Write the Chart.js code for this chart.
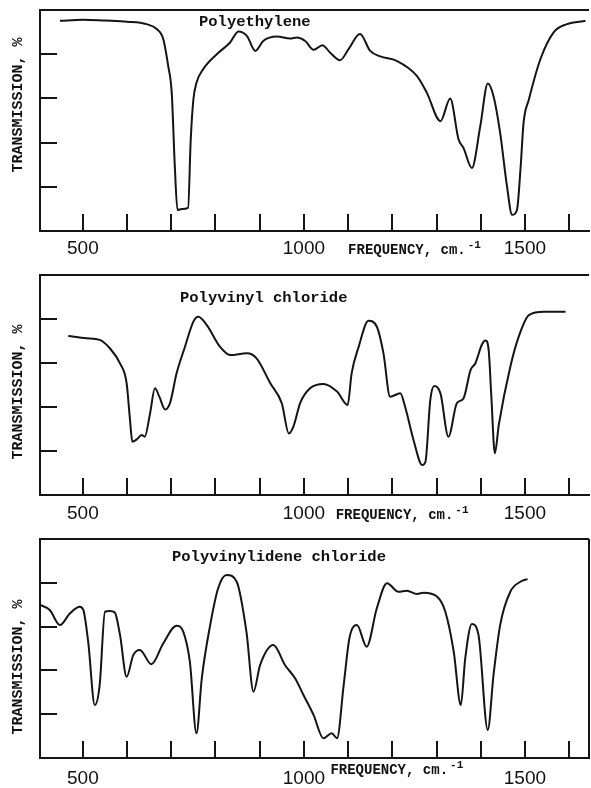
<!DOCTYPE html>
<html>
<head>
<meta charset="utf-8">
<script src="https://cdn.jsdelivr.net/npm/chart.js@4.4.1/dist/chart.umd.min.js"></script>
<style>
  html, body { margin: 0; background: #fff; overflow: hidden; }
  #wrap { position: relative; width: 591px; height: 788px; overflow: hidden; }
  #wrap canvas { position: absolute; left: 0; }
</style>
</head>
<body>
<div id="wrap">
  <canvas id="c1" width="591" height="300" style="top:0px"></canvas>
  <canvas id="c2" width="591" height="300" style="top:240px"></canvas>
  <canvas id="c3" width="591" height="300" style="top:488px"></canvas>
</div>
<script>

const peFreq = [448, 500, 550, 600, 644, 667, 682, 693, 701, 708, 714, 724, 738, 744, 750, 757, 772, 803, 833, 852, 871, 890, 908, 939, 969, 984, 1003, 1022, 1042, 1059, 1082, 1101, 1127, 1150, 1173, 1210, 1256, 1278, 1309, 1331, 1350, 1361, 1380, 1399, 1416, 1429, 1444, 1459, 1471, 1482, 1490, 1497, 1509, 1535, 1565, 1595, 1637];
const peTrans = [95.1, 95.6, 95.2, 94.7, 93.6, 91.4, 86.8, 74.7, 62.6, 29.2, 9.5, 10, 10.5, 41.4, 59.5, 67.1, 73.2, 80, 85.3, 90.3, 88.3, 81.5, 86, 88, 87.1, 87.6, 86, 82, 84.1, 80.8, 77.3, 82.3, 89.1, 81.5, 79, 77, 70.1, 62.6, 49.7, 59.9, 41.4, 37.6, 28.5, 47.4, 66.7, 61, 44.4, 21, 7.3, 9.5, 28, 49, 59.5, 77.7, 89.9, 93.6, 95.1];

const pvcFreq = [467, 508, 538, 561, 584, 599, 606, 612, 622, 633, 640, 652, 663, 673, 686, 697, 712, 731, 750, 761, 780, 810, 833, 871, 893, 924, 950, 966, 976, 992, 1014, 1044, 1075, 1099, 1108, 1124, 1146, 1165, 1180, 1195, 1218, 1229, 1248, 1268, 1275, 1286, 1295, 1309, 1327, 1346, 1361, 1377, 1388, 1403, 1411, 1418, 1424, 1432, 1441, 1467, 1486, 1509, 1543, 1592];
const pvcTrans = [72.3, 71.2, 70.5, 66.7, 59.8, 50.8, 35.6, 24.2, 25.3, 27.3, 26.5, 37.1, 48.5, 44.7, 38.9, 41.7, 55.3, 67.4, 78.8, 81, 77.3, 67.4, 63.6, 64.4, 62.1, 50.8, 41.7, 28, 31, 42, 48.5, 50.5, 47, 40.9, 55.3, 67.4, 79.2, 76.5, 64.4, 44.7, 46.2, 40.1, 25, 13.6, 15.1, 43.2, 49.5, 46.2, 26.5, 41.7, 43.9, 56.8, 59.9, 68.5, 70.2, 66, 45, 19, 32, 58.3, 72, 81.8, 83.3, 83.3];

const pvdcFreq = [403, 425, 448, 471, 493, 501, 512, 527, 538, 550, 561, 572, 584, 599, 614, 629, 655, 682, 712, 727, 742, 757, 769, 788, 806, 825, 848, 870, 886, 901, 931, 957, 980, 999, 1022, 1044, 1063, 1075, 1090, 1103, 1120, 1142, 1165, 1188, 1214, 1233, 1256, 1271, 1301, 1320, 1339, 1355, 1365, 1380, 1395, 1416, 1429, 1444, 1467, 1490, 1506];
const pvdcTrans = [69.9, 67.6, 60.7, 66.1, 69.1, 67.6, 53.1, 24.2, 33.3, 66.8, 67.1, 66.5, 56.2, 37.1, 47, 49.3, 42.8, 52.4, 60.4, 57.7, 44, 11.3, 36.4, 60.7, 77.5, 83.6, 80.5, 57.7, 30.3, 42.5, 51.6, 42.5, 36.4, 28.8, 19.6, 9, 11.3, 9, 33.3, 54.7, 60.7, 50.8, 68.4, 79.8, 75.9, 76.4, 74.9, 75.5, 73.7, 66.8, 48.5, 24.2, 45.5, 61.2, 56.2, 12.8, 37.9, 60.7, 75.9, 80.5, 81.7];

/* marcas de los ejes */
const xTickVals = [500, 600, 700, 800, 900, 1000, 1100, 1200, 1300, 1400, 1500, 1600];
const xTickLabels = ['500', '1000', '1500'];
const yTickVals = [20, 40, 60, 80];

const titles = ['Polyethylene', 'Polyvinyl chloride', 'Polyvinylidene chloride'];
const xTitle = 'FREQUENCY, cm.';
const yTitle = 'TRANSMISSION, %';

/* plugin: marco superior, marcas hacia dentro y textos */
const decor = {
  id: 'decor',
  afterDraw(chart, args, o) {
    const {ctx, chartArea: a, scales: {x, y}} = chart;
    ctx.save();
    ctx.strokeStyle = '#141414';
    ctx.lineWidth = 2;
    ctx.beginPath();
    ctx.moveTo(a.left, a.top);
    ctx.lineTo(a.right, a.top);
    if (o.rightBorder) {
      ctx.moveTo(a.right, a.top);
      ctx.lineTo(a.right, a.bottom);
    }
    xTickVals.forEach(v => {
      const px = Math.round(x.getPixelForValue(v));
      ctx.moveTo(px, a.bottom);
      ctx.lineTo(px, a.bottom - 17);
    });
    yTickVals.forEach(v => {
      const py = Math.round(y.getPixelForValue(v));
      ctx.moveTo(a.left, py);
      ctx.lineTo(a.left + 17, py);
    });
    ctx.stroke();

    ctx.fillStyle = '#111';
    ctx.textBaseline = 'middle';
    // titulo del polimero
    ctx.font = 'bold 15.5px "Liberation Mono", monospace';
    ctx.textAlign = 'left';
    ctx.fillText(o.title, o.titleX, a.top + o.titleDy);
    // eje x
    ctx.font = 'bold 14px "Liberation Mono", monospace';
    const fx = x.getPixelForValue(o.freqAt);
    const fy = a.bottom + o.freqDy;
    ctx.fillText(xTitle, fx, fy);
    const w = ctx.measureText(xTitle).width;
    ctx.font = 'bold 11px "Liberation Mono", monospace';
    ctx.fillText('-1', fx + w + 2, fy - 5);
    // eje y
    ctx.font = 'bold 15px "Liberation Mono", monospace';
    ctx.translate(18, a.top + o.yTitleDy);
    ctx.rotate(-Math.PI / 2);
    ctx.textAlign = 'center';
    ctx.fillText(yTitle, 0, 0);
    ctx.restore();
  }
};

const makeChart = (id, freq, trans, opts) => {
  const points = freq.map((f, i) => ({x: f, y: trans[i]}));
  return new Chart(document.getElementById(id), {
    type: 'line',
    data: {
      datasets: [{
        data: points,
        borderColor: '#141414',
        borderWidth: 2,
        pointRadius: 0,
        cubicInterpolationMode: 'monotone',
        fill: false
      }]
    },
    options: {
      responsive: false,
      animation: false,
      devicePixelRatio: 1,
      layout: {padding: {left: 40, right: 2, top: opts.padTop, bottom: opts.padBottom}},
      plugins: {
        legend: {display: false},
        tooltip: {enabled: false},
        decor: opts
      },
      scales: {
        x: {
          type: 'linear',
          min: 403,
          max: 1645,
          afterBuildTicks: (s) => { s.ticks = xTickVals.map(v => ({value: v})); },
          afterFit: (s) => { s.height = 30; },
          ticks: {
            padding: opts.tickPad,
            color: '#111',
            font: {family: '"Liberation Sans", sans-serif', size: 19},
            callback: (v) => xTickLabels.includes(String(v)) ? String(v) : ''
          },
          grid: {display: false, drawTicks: false},
          border: {display: true, color: '#141414', width: 2}
        },
        y: {
          min: 0,
          max: 100,
          ticks: {display: false},
          grid: {display: false, drawTicks: false},
          border: {display: true, color: '#141414', width: 2}
        }
      }
    },
    plugins: [decor]
  });
};

makeChart('c1', peFreq, peTrans, {
  title: titles[0], titleX: 199, titleDy: 12, freqAt: 1100, freqDy: 19, yTitleDy: 95,
  padTop: 10, padBottom: 39, tickPad: 6, rightBorder: false
});
makeChart('c2', pvcFreq, pvcTrans, {
  title: titles[1], titleX: 180, titleDy: 23, freqAt: 1072, freqDy: 20, yTitleDy: 117,
  padTop: 35, padBottom: 15, tickPad: 7, rightBorder: false
});
makeChart('c3', pvdcFreq, pvdcTrans, {
  title: titles[2], titleX: 172, titleDy: 18, freqAt: 1060, freqDy: 12, yTitleDy: 128,
  padTop: 51, padBottom: 0, tickPad: 9, rightBorder: true
});
</script>
</body>
</html>
